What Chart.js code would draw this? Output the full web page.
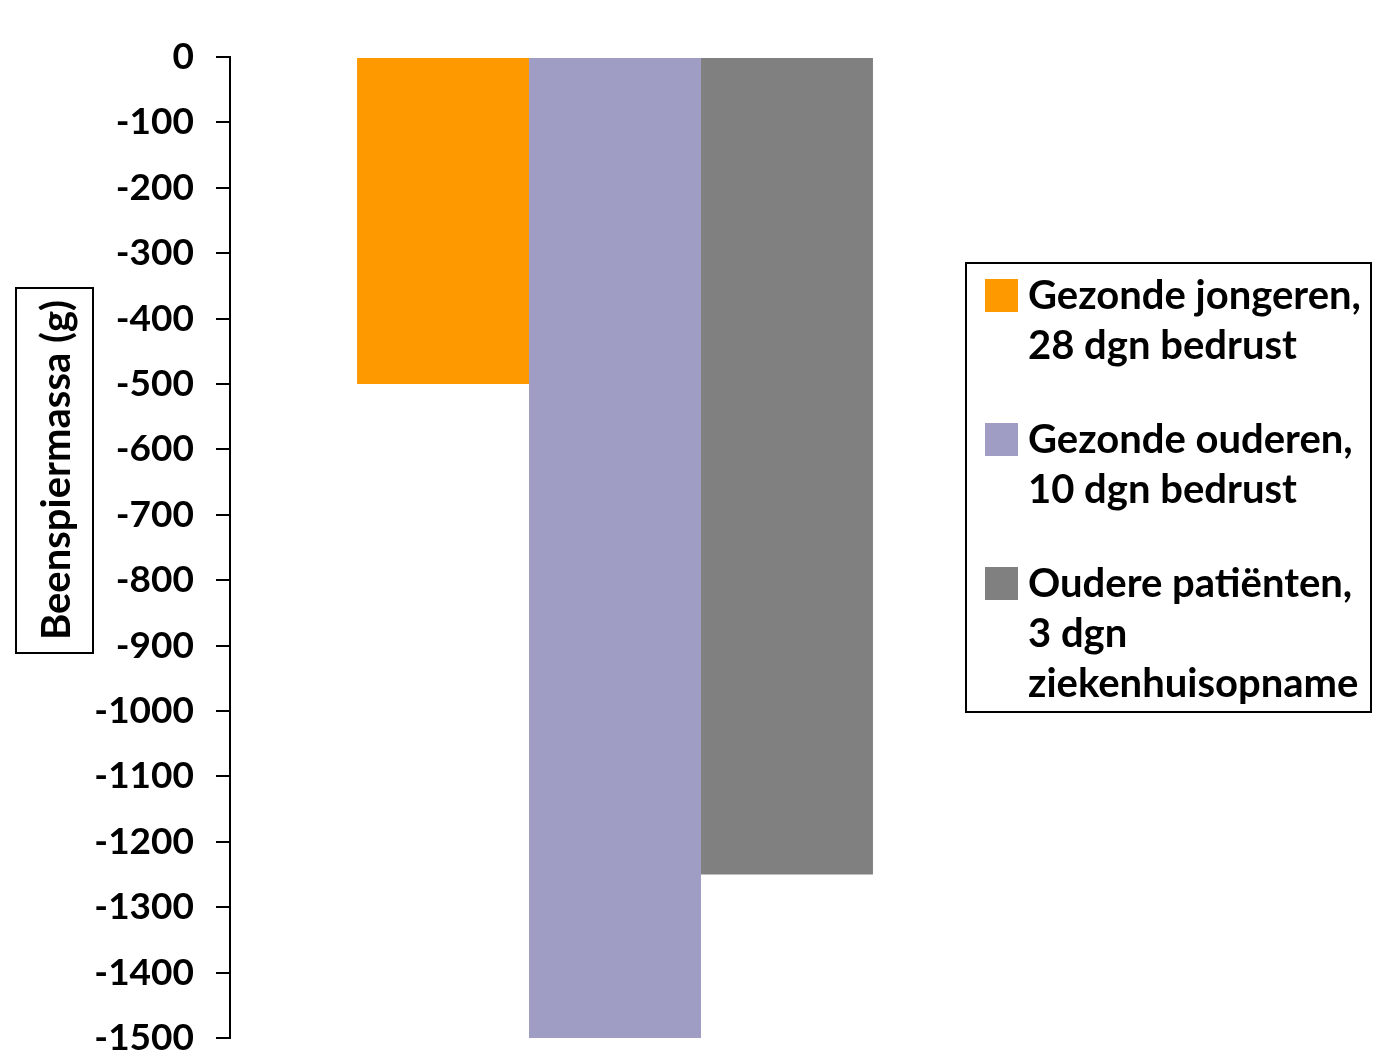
<!DOCTYPE html>
<html lang="nl">
<head>
<meta charset="utf-8">
<title>Verlies van beenspiermassa</title>
<script src="https://cdn.jsdelivr.net/npm/chart.js@4.4.1/dist/chart.umd.min.js"></script>
<style>
  html, body { margin: 0; padding: 0; background: #ffffff; }
  #wrap { position: relative; width: 1373px; height: 1057px; }
</style>
</head>
<body>
<div id="wrap"><canvas id="chart"></canvas></div>
<script>
// Data
const categories = [''];
const seriesLabels = [
  ['Gezonde jongeren,', '28 dgn bedrust'],
  ['Gezonde ouderen,', '10 dgn bedrust'],
  ['Oudere patiënten,', '3 dgn', 'ziekenhuisopname']
];
const jongerenBedrust = [-500];
const ouderenBedrust = [-1500];
const patientenOpname = [-1250];
const seriesColors = ['#FF9900', '#A09DC4', '#808080'];
const yAxisTitle = 'Beenspiermassa (g)';
const yMin = -1500, yMax = 0, yStep = 100;

const FONT = 'Lato, "Open Sans", "DejaVu Sans", sans-serif';

// Y-axis title inside a framed box, placed left of the tick labels
const axisTitleBox = {
  id: 'axisTitleBox',
  afterDraw(chart) {
    const ctx = chart.ctx;
    ctx.save();
    ctx.strokeStyle = '#000';
    ctx.lineWidth = 2;
    ctx.strokeRect(16, 288, 77, 365);
    ctx.translate(57, 470);
    ctx.rotate(-Math.PI / 2);
    ctx.fillStyle = '#000';
    ctx.font = 'bold 40px ' + FONT;
    ctx.textAlign = 'center';
    ctx.textBaseline = 'middle';
    ctx.fillText(yAxisTitle, 0, 0);
    ctx.restore();
  }
};

// Framed legend with multi-line entries
const boxLegend = {
  id: 'boxLegend',
  afterDraw(chart) {
    const ctx = chart.ctx;
    ctx.save();
    ctx.strokeStyle = '#000';
    ctx.lineWidth = 2;
    ctx.strokeRect(966, 263, 405, 449);
    ctx.font = 'bold 40px ' + FONT;
    ctx.textBaseline = 'middle';
    ctx.textAlign = 'left';
    const lh = 50, gap = 94;
    let y = 296;
    chart.data.datasets.forEach((ds) => {
      ctx.fillStyle = ds.backgroundColor;
      ctx.fillRect(985, y - 17, 33, 33);
      ctx.fillStyle = '#000';
      const lines = ds.label;
      lines.forEach((t, k) => {
        ctx.fillText(t, 1028, y + k * lh);
      });
      y += (lines.length - 1) * lh + gap;
    });
    ctx.restore();
  }
};

new Chart(document.getElementById('chart'), {
  type: 'bar',
  data: {
    labels: categories,
    datasets: [
      { label: seriesLabels[0], data: jongerenBedrust, backgroundColor: seriesColors[0] },
      { label: seriesLabels[1], data: ouderenBedrust, backgroundColor: seriesColors[1] },
      { label: seriesLabels[2], data: patientenOpname, backgroundColor: seriesColors[2] }
    ]
  },
  options: {
    responsive: true,
    maintainAspectRatio: false,
    animation: false,
    devicePixelRatio: 1,
    layout: { padding: { left: 0, right: 373, top: 57, bottom: 19 } },
    datasets: { bar: { categoryPercentage: 0.67, barPercentage: 1.0, borderWidth: 0 } },
    plugins: {
      legend: { display: false },
      tooltip: { enabled: false },
      title: { display: false }
    },
    scales: {
      x: { display: false },
      y: {
        min: yMin,
        max: yMax,
        afterFit(scale) {
          scale.width = 230;
          scale.paddingTop = 0;
          scale.paddingBottom = 0;
        },
        border: { display: true, color: '#000', width: 2 },
        grid: { drawOnChartArea: false, drawTicks: true, tickLength: 14, color: '#000', lineWidth: 2 },
        ticks: {
          stepSize: yStep,
          padding: 22,
          color: '#000',
          font: { family: FONT, size: 37, weight: 'bold' },
          callback: (v) => String(v)
        }
      }
    }
  },
  plugins: [axisTitleBox, boxLegend]
});
</script>
</body>
</html>
